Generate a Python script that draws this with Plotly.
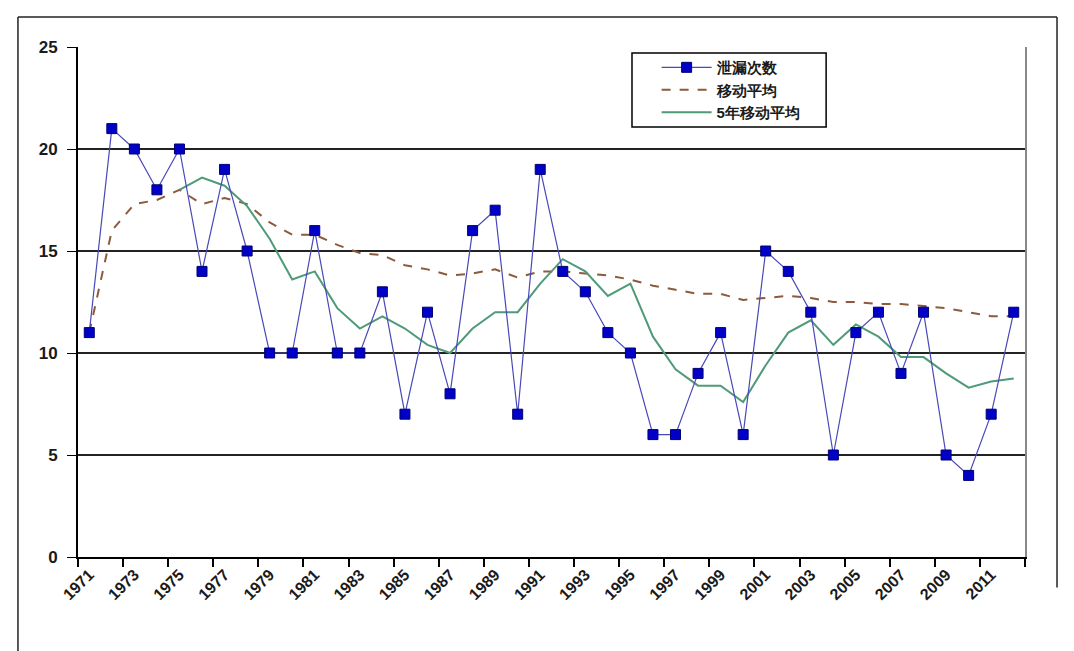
import plotly.graph_objects as go

# data
years = list(range(1971, 2013))
leaks = [11, 21, 20, 18, 20, 14, 19, 15, 10, 10,
         16, 10, 10, 13, 7, 12, 8, 16, 17, 7,
         19, 14, 13, 11, 10, 6, 6, 9, 11, 6,
         15, 14, 12, 5, 11, 12, 9, 12, 5, 4,
         7, 12]
moving_avg = [11.0, 16.0, 17.3, 17.5, 18.0, 17.3, 17.6, 17.3, 16.4, 15.8,
              15.8, 15.3, 14.9, 14.8, 14.3, 14.1, 13.8, 13.9, 14.1, 13.7,
              14.0, 14.0, 13.9, 13.8, 13.6, 13.3, 13.1, 12.9, 12.9, 12.6,
              12.7, 12.8, 12.7, 12.5, 12.5, 12.4, 12.4, 12.3, 12.2, 12.0,
              11.8, 11.8]
ma5 = [None, None, None, None, 18.0, 18.6, 18.2, 17.2, 15.6, 13.6,
       14.0, 12.2, 11.2, 11.8, 11.2, 10.4, 10.0, 11.2, 12.0, 12.0,
       13.4, 14.6, 14.0, 12.8, 13.4, 10.8, 9.2, 8.4, 8.4, 7.6,
       9.4, 11.0, 11.6, 10.4, 11.4, 10.8, 9.8, 9.8, 9.0, 8.3,
       8.6, 8.75]
label_years = list(range(1971, 2012, 2))
tick_marks = [y - 0.5 for y in range(1971, 2014, 2)]

names = ["泄漏次数", "移动平均", "5年移动平均"]

fig = go.Figure()

fig.add_trace(go.Scatter(
    x=years, y=moving_avg, mode="lines", name=names[1], legendrank=2,
    line={"color": "#8c5a3c", "width": 2, "dash": "dash"},
))
fig.add_trace(go.Scatter(
    x=years, y=ma5, mode="lines", name=names[2], legendrank=3,
    line={"color": "#4f9a78", "width": 2},
))
fig.add_trace(go.Scatter(
    x=years, y=leaks, mode="lines+markers", name=names[0], legendrank=1,
    line={"color": "#4848b8", "width": 1.2},
    marker={"symbol": "square", "size": 10, "color": "#0000c8",
            "line": {"color": "#000070", "width": 1}},
))

# grey right-hand border of the plot area
fig.add_trace(go.Scatter(x=[years[0]], y=[None], yaxis="y2", showlegend=False,
                         hoverinfo="skip"))

font = "Liberation Sans, Arial, sans-serif"

# page body adds an 8px offset, so the figure is 8px smaller than the window
fig.update_layout(
    width=1066,
    height=643,
    margin={"l": 70, "r": 49, "t": 39, "b": 94},
    paper_bgcolor="white",
    plot_bgcolor="white",
    font={"family": font, "color": "#1a1a1a"},
    xaxis={
        "range": [1970.5, 2012.5],
        "tickvals": label_years,
        "ticktext": [str(y) for y in label_years],
        "ticks": "",
        "tickangle": -45,
        "tickfont": {"size": 16, "family": font, "weight": "bold"},
        "showgrid": False,
        "zeroline": False,
        "showline": True,
        "linecolor": "black",
        "linewidth": 2,
        "minor": {"tickvals": tick_marks, "ticks": "outside", "ticklen": 8,
                  "tickcolor": "black", "tickwidth": 1.5, "showgrid": False},
    },
    yaxis={
        "range": [0, 25],
        "dtick": 5,
        "ticks": "outside",
        "ticklen": 9,
        "tickcolor": "black",
        "ticklabelstandoff": 6,
        "tickfont": {"size": 17, "family": font, "weight": "bold"},
        "showgrid": True,
        "gridcolor": "#222222",
        "gridwidth": 1.5,
        "zeroline": False,
        "showline": True,
        "linecolor": "black",
        "linewidth": 2,
    },
    yaxis2={
        "range": [0, 25],
        "overlaying": "y",
        "side": "right",
        "showline": True,
        "linecolor": "#888888",
        "linewidth": 1.5,
        "showticklabels": False,
        "ticks": "",
        "showgrid": False,
        "zeroline": False,
    },
    legend={
        "x": 0.611,
        "y": 0.992,
        "xanchor": "left",
        "yanchor": "top",
        "bgcolor": "rgba(0,0,0,0)",
        "borderwidth": 0,
        "font": {"size": 15, "family": font, "weight": "bold"},
        "itemwidth": 50,
        "tracegroupgap": 0,
    },
    shapes=[
        # legend frame
        {"type": "rect", "xref": "paper", "yref": "paper",
         "x0": 0.585, "x1": 0.790, "y0": 0.843, "y1": 0.988,
         "fillcolor": "white", "line": {"color": "black", "width": 1.5}},
        # outer chart frame
        {"type": "line", "xref": "paper", "yref": "paper",
         "x0": -0.0634, "x1": -0.0634, "y0": 1.059, "y1": -0.19,
         "line": {"color": "#222222", "width": 1.5}},
        {"type": "line", "xref": "paper", "yref": "paper",
         "x0": -0.0634, "x1": 1.0338, "y0": 1.059, "y1": 1.059,
         "line": {"color": "#222222", "width": 1.5}},
        {"type": "line", "xref": "paper", "yref": "paper",
         "x0": 1.0338, "x1": 1.0338, "y0": 1.059, "y1": -0.06,
         "line": {"color": "#222222", "width": 1.5}},
    ],
)

fig.write_html("out.html")
